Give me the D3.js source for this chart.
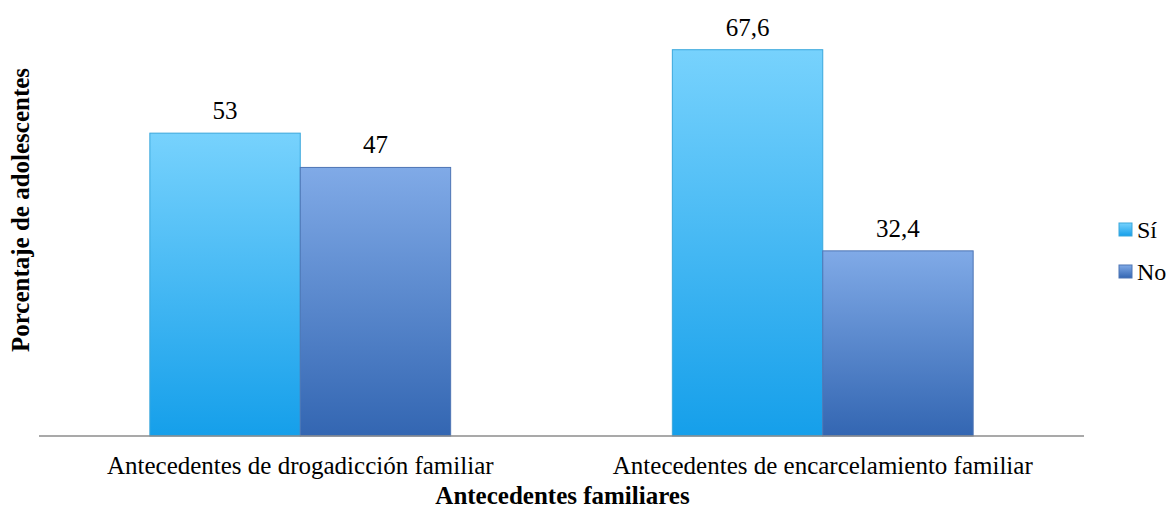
<!DOCTYPE html>
<html>
<head>
<meta charset="utf-8">
<script src="https://cdn.jsdelivr.net/npm/d3@7"></script>
<style>
  body { margin: 0; background: #fff; }
  text { font-family: "Liberation Serif", "Times New Roman", serif; fill: #000; }
</style>
</head>
<body>
<svg id="chart" width="1173" height="510"></svg>
<script>
const categories = ["Antecedentes de drogadicción familiar", "Antecedentes de encarcelamiento familiar"];
const seriesNames = ["Sí", "No"];
const siValues = [53, 67.6];
const noValues = [47, 32.4];
const valueLabels = [["53", "47"], ["67,6", "32,4"]];

const svg = d3.select("#chart");
const margin = { left: 39, right: 89, top: 36, bottom: 74 };
const width = 1173, height = 510;
const plotBottom = height - margin.bottom;

const x = d3.scaleBand().domain(categories).range([margin.left, width - margin.right]).paddingInner(0).paddingOuter(0);
const x1 = d3.scaleBand().domain(seriesNames).range([0, x.bandwidth()]).paddingInner(0).paddingOuter(0.737);
const y = d3.scaleLinear().domain([0, 70]).range([plotBottom, margin.top]);

const defs = svg.append("defs");
const grads = [
  { id: "gSi", top: "#77d2fd", bottom: "#159fea" },
  { id: "gNo", top: "#80aae7", bottom: "#3366b2" }
];
grads.forEach(g => {
  const lg = defs.append("linearGradient").attr("id", g.id).attr("x1", 0).attr("y1", 0).attr("x2", 0).attr("y2", 1);
  lg.append("stop").attr("offset", "0%").attr("stop-color", g.top);
  lg.append("stop").attr("offset", "100%").attr("stop-color", g.bottom);
});
const fills = { "Sí": "url(#gSi)", "No": "url(#gNo)" };
const strokes = { "Sí": "#3aa7dc", "No": "#4d74b4" };

const data = categories.map((c, i) => ({
  cat: c,
  vals: [
    { s: "Sí", v: siValues[i], label: valueLabels[i][0] },
    { s: "No", v: noValues[i], label: valueLabels[i][1] }
  ]
}));

const groups = svg.append("g").selectAll("g")
  .data(data).enter().append("g")
  .attr("transform", d => "translate(" + x(d.cat) + ",0)");

groups.selectAll("rect")
  .data(d => d.vals).enter().append("rect")
  .attr("x", d => x1(d.s))
  .attr("y", d => y(d.v))
  .attr("width", x1.bandwidth())
  .attr("height", d => plotBottom - y(d.v))
  .attr("fill", d => fills[d.s])
  .attr("stroke", d => strokes[d.s])
  .attr("stroke-width", 1);

groups.selectAll("text.val")
  .data(d => d.vals).enter().append("text")
  .attr("class", "val")
  .attr("x", d => x1(d.s) + x1.bandwidth() / 2)
  .attr("y", d => y(d.v) - 14)
  .attr("text-anchor", "middle")
  .style("font-size", "25px")
  .text(d => d.label);

// x axis
const xAxis = svg.append("g")
  .attr("transform", "translate(0," + plotBottom + ")")
  .call(d3.axisBottom(x).tickSize(0).tickPadding(20));
xAxis.select(".domain").attr("stroke", "#8c8c8c").attr("stroke-width", 1.5).attr("d", "M" + margin.left + ",0H" + (width - margin.right));
xAxis.selectAll("text").style("font-size", "25px").style("font-family", "Liberation Serif, serif").attr("fill", "#000");

// axis titles
svg.append("text")
  .attr("x", x.range()[0] + (x.range()[1] - x.range()[0]) / 2 + 1)
  .attr("y", 504)
  .attr("text-anchor", "middle")
  .style("font-size", "25px")
  .style("font-weight", "bold")
  .text("Antecedentes familiares");

svg.append("text")
  .attr("transform", "translate(29," + 210 + ") rotate(-90)")
  .attr("text-anchor", "middle")
  .style("font-size", "25px")
  .style("font-weight", "bold")
  .text("Porcentaje de adolescentes");

// legend
const legend = svg.append("g").selectAll("g")
  .data(seriesNames).enter().append("g")
  .attr("transform", (d, i) => "translate(1119," + (223 + i * 42) + ")");
legend.append("rect")
  .attr("width", 13).attr("height", 13)
  .attr("fill", d => fills[d])
  .attr("stroke", d => strokes[d]);
legend.append("text")
  .attr("x", 18).attr("y", 15)
  .style("font-size", "24px")
  .text(d => d);
</script>
</body>
</html>
